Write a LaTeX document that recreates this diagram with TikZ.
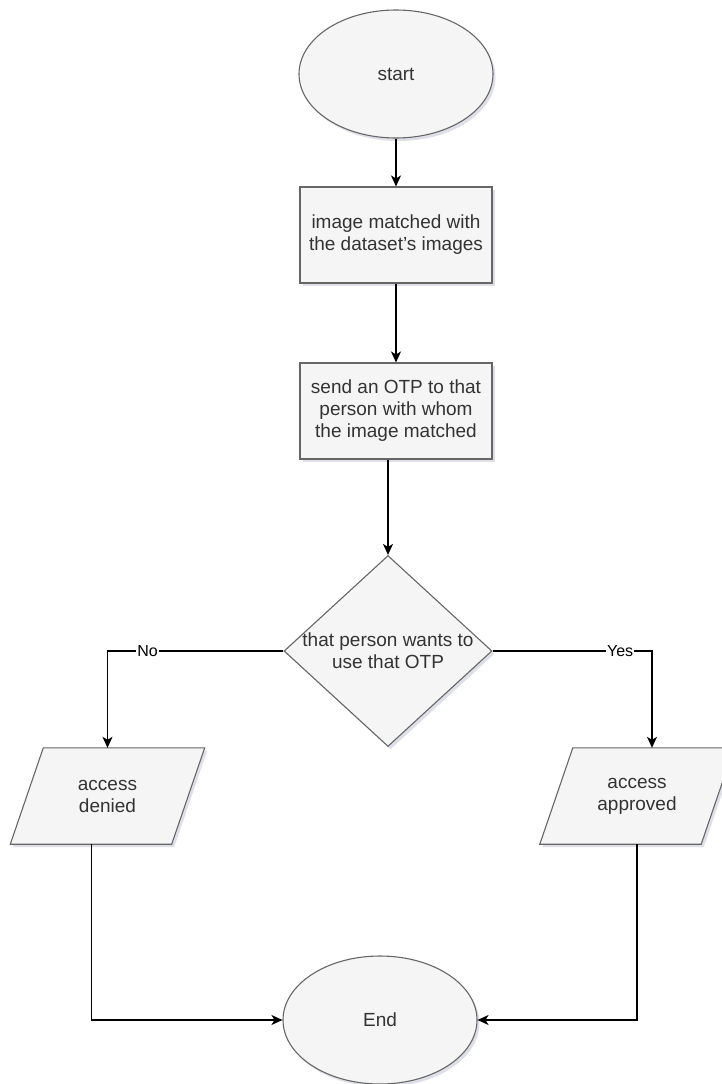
\documentclass[tikz,border=0pt]{standalone}
\usepackage{fontspec}
\setmainfont{Liberation Sans}
\usetikzlibrary{shapes.geometric,arrows.meta,shadows,backgrounds}

\definecolor{shapefill}{HTML}{F5F5F5}
\definecolor{shapeline}{HTML}{666666}
\definecolor{shapetext}{HTML}{333333}
\definecolor{shadowtint}{HTML}{50508A}

\tikzset{
  outline/.style={draw=shapeline, fill=shapefill, line width=1.1pt,
    drop shadow={shadow xshift=2.5pt, shadow yshift=-3pt, fill=shadowtint, opacity=0.18}},
  caption/.style={text=shapetext, font=\fontsize{19}{22}\selectfont, align=center, inner sep=0pt},
  base/.style={outline, caption},
  terminal/.style={base, ellipse, minimum width=194pt, minimum height=128pt},
  process/.style={base, rectangle, minimum width=192pt, minimum height=96pt},
  decision/.style={base, diamond, minimum width=208pt, minimum height=191pt},
  iobox/.style={caption, rectangle, minimum width=161pt, minimum height=96pt},
  flow/.style={draw=black, line width=1.2pt, -{Stealth[length=11pt, width=10pt, inset=3pt]}},
  lbl/.style={fill=white, text=black, font=\fontsize{16}{18}\selectfont, inner sep=1pt}
}

\begin{document}
\begin{tikzpicture}[x=1pt, y=-1pt]
  \useasboundingbox (0,0) rectangle (721,1084);

  % shapes
  \node[terminal] (start) at (396,74) {start};
  \node[process] (match) at (396,235) {image matched with\\the dataset's images};
  \node[process] (otp) at (396,411) {send an OTP to that\\person with whom\\the image matched};
  \node[decision] (dec) at (388,651) {};
  \node[caption] (dectext) at (dec.center) {that person wants to\\use that OTP};
  \node[iobox] (deny) at (107.5,796) {access\\denied};
  \node[iobox] (appr) at (637,796) {access\\approved};
  \node[terminal] (end) at (380,1020) {End};

  % slanted input/output outlines behind their captions
  \begin{scope}[on background layer]
    \foreach \n in {deny, appr}
      \path[outline] ([xshift=16.5pt]\n.north west) -- ([xshift=16.5pt]\n.north east)
        -- ([xshift=-16.5pt]\n.south east) -- ([xshift=-16.5pt]\n.south west) -- cycle;
  \end{scope}

  % connectors
  \draw[flow] (start) -- (match);
  \draw[flow] (match) -- (otp);
  \draw[flow] (otp.south -| dec.north) -- (dec.north);
  \draw[flow] (dec.west) -| node[lbl, pos=0.386] {No} (deny.north);
  \draw[flow] (dec.east) -| node[lbl, pos=0.4] {Yes} ([xshift=15pt]appr.north);
  \draw[flow] ([xshift=-16pt]deny.south) |- (end.west);
  \draw[flow] (appr.south) |- (end.east);
\end{tikzpicture}
\end{document}
